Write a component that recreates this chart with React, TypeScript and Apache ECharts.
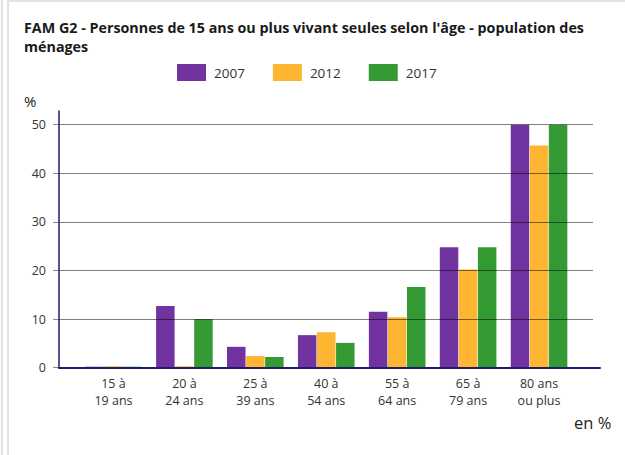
import React, { useEffect, useRef } from "react";
import * as echarts from "echarts";

const categories = ["15 à\n19 ans", "20 à\n24 ans", "25 à\n39 ans", "40 à\n54 ans", "55 à\n64 ans", "65 à\n79 ans", "80 ans\nou plus"];
const series2007 = [0.2, 12.7, 4.3, 6.7, 11.5, 24.8, 50.2];
const series2012 = [0.3, 0.3, 2.4, 7.3, 10.4, 20.2, 45.7];
const series2017 = [0.2, 10.0, 2.2, 5.1, 16.6, 24.8, 50.2];
const yTicks = [0, 10, 20, 30, 40, 50];

const FONT = "'Open Sans', 'Noto Sans', sans-serif";
const C2007 = "#7033a0";
const C2012 = "#fdb532";
const C2017 = "#349a34";

export default function App() {
  const ref = useRef<HTMLDivElement>(null);
  useEffect(() => {
    if (!ref.current) return;
    const chart = echarts.init(ref.current, undefined, { renderer: "svg" });
    const plotTop = 124.7;
    const plotBottom = 455 - 367.7;
    const bar = (name: string, data: number[], color: string) => ({
      name,
      type: "bar",
      xAxisIndex: 1,
      yAxisIndex: 1,
      data,
      barWidth: 18.5,
      barGap: "3%",
      itemStyle: { color },
      z: 2,
    });
    chart.setOption({
      animation: false,
      textStyle: { fontFamily: FONT },
      title: {
        text: "FAM G2 - Personnes de 15 ans ou plus vivant seules selon l'âge - population des\nménages",
        left: 24,
        top: 18,
        padding: 0,
        textStyle: { fontSize: 14.3, fontWeight: "bold", color: "#1a1a1a", lineHeight: 19, fontFamily: FONT },
      },
      legend: {
        left: 177,
        top: 64,
        padding: 0,
        itemWidth: 29,
        itemHeight: 17,
        itemGap: 28,
        icon: "rect",
        textStyle: { fontSize: 13.5, color: "#333", fontFamily: FONT, padding: [0, 0, 0, 3] },
        data: ["2007", "2012", "2017"],
      },
      graphic: [
        { type: "text", left: 24, top: 93, style: { text: "%", fontSize: 15, fill: "#222", fontFamily: FONT } },
        { type: "text", left: 574, top: 414, style: { text: "en %", fontSize: 16.5, fill: "#222", fontFamily: FONT } },
      ],
      grid: [
        { left: 59, right: 32, top: plotTop, bottom: plotBottom },
        { left: 78, right: 50.5, top: plotTop, bottom: plotBottom },
        { left: 59, right: 25, top: 111, bottom: plotBottom },
      ],
      xAxis: [
        { type: "category", gridIndex: 0, data: ["x"], show: false },
        {
          type: "category",
          gridIndex: 1,
          data: categories,
          axisLine: { show: false },
          axisTick: { show: false },
          axisLabel: { fontSize: 12.5, lineHeight: 16.5, color: "#333", margin: 8, fontFamily: FONT, interval: 0 },
        },
        {
          type: "category",
          gridIndex: 2,
          data: ["x"],
          axisLine: { show: true, lineStyle: { color: "#1c1c6e", width: 2 } },
          axisTick: { show: false },
          axisLabel: { show: false },
          z: 6,
        },
      ],
      yAxis: [
        {
          type: "value",
          gridIndex: 0,
          min: yTicks[0],
          max: yTicks[yTicks.length - 1],
          interval: 10,
          axisLine: { show: false },
          axisTick: { show: true, length: 6, lineStyle: { color: "#888" } },
          axisLabel: { fontSize: 12.5, color: "#333", margin: 13, fontFamily: FONT },
          splitLine: { show: true, lineStyle: { color: "rgba(0,0,0,0.5)", width: 1 } },
          z: 5,
        },
        { type: "value", gridIndex: 1, min: 0, max: 50, show: false },
        {
          type: "value",
          gridIndex: 2,
          min: 0,
          max: 1,
          axisLine: { show: true, lineStyle: { color: "#1c1c6e", width: 1.5 } },
          axisTick: { show: false },
          axisLabel: { show: false },
          splitLine: { show: false },
          z: 6,
        },
      ],
      series: [bar("2007", series2007, C2007), bar("2012", series2012, C2012), bar("2017", series2017, C2017)],
    });
    return () => chart.dispose();
  }, []);

  return (
    <div style={{ position: "fixed", left: 0, top: 0, width: 625, height: 455, background: "#fff" }}>
      <div style={{ position: "absolute", left: 1, top: 0, width: 2, height: 455, background: "#e2e2e2" }} />
      <div style={{ position: "absolute", left: 7, top: 0, width: 2, height: 455, background: "#e2e2e2" }} />
      <div style={{ position: "absolute", left: 7, top: 0, width: 618, height: 2, background: "#e2e2e2" }} />
      <div ref={ref} style={{ position: "absolute", left: 0, top: 0, width: 625, height: 455 }} />
    </div>
  );
}
